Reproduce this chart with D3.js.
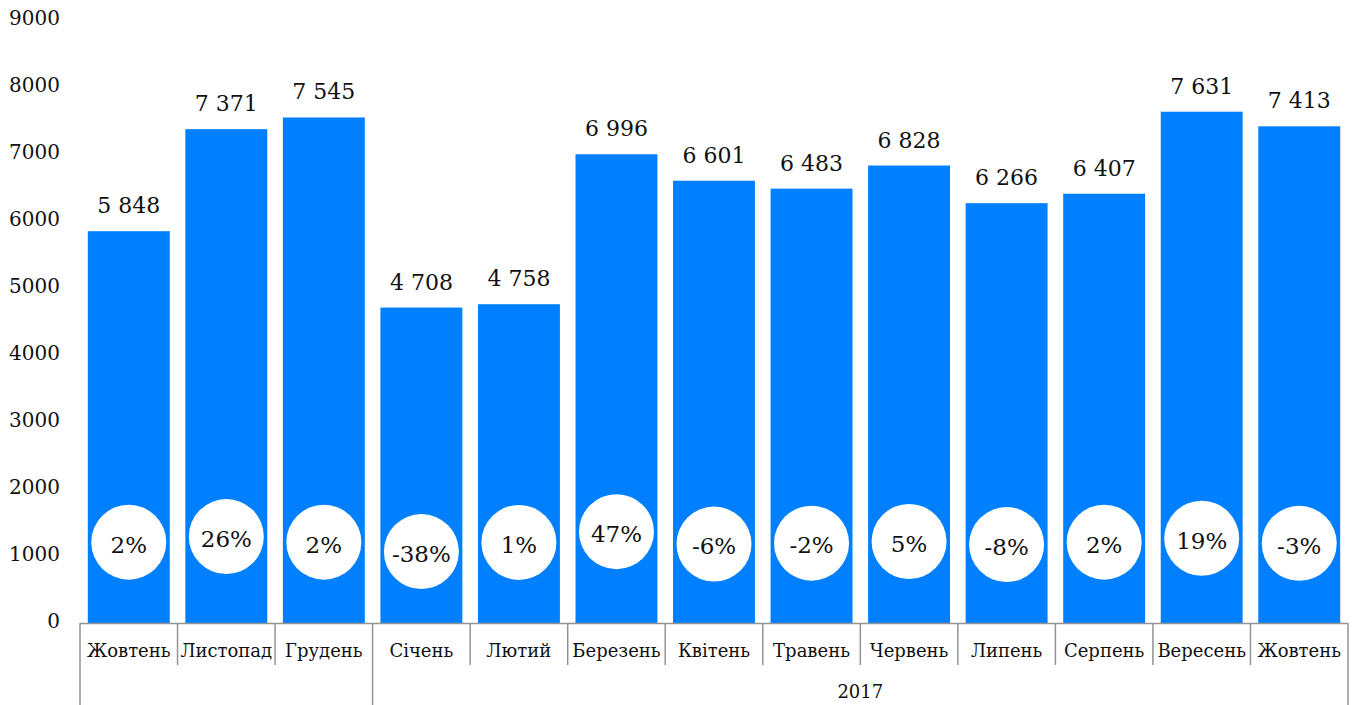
<!DOCTYPE html>
<html>
<head>
<meta charset="utf-8">
<script src="https://cdn.jsdelivr.net/npm/d3@7"></script>
<style>
  body { margin: 0; background: #fff; }
  svg text { font-family: "DejaVu Serif", "Liberation Serif", serif; fill: #111; }
</style>
</head>
<body>
<svg id="chart" width="1357" height="705"></svg>
<script>
// data
let months = ['Жовтень', 'Листопад', 'Грудень', 'Січень', 'Лютий', 'Березень', 'Квітень',
  'Травень', 'Червень', 'Липень', 'Серпень', 'Вересень', 'Жовтень'];
let values = [5848, 7371, 7545, 4708, 4758, 6996, 6601, 6483, 6828, 6266, 6407, 7631, 7413];
let changes = [2, 26, 2, -38, 1, 47, -6, -2, 5, -8, 2, 19, -3];
let yTickValues = [0, 1000, 2000, 3000, 4000, 5000, 6000, 7000, 8000, 9000];
let yearGroups = [
  { label: '', from: 0, to: 3 },
  { label: '2017', from: 3, to: 13 }
];

let svg = d3.select('#chart');
let plotLeft = 80, plotRight = 1348, plotTop = 20, plotBottom = 623;

let x = d3.scaleBand()
  .domain(d3.range(months.length))
  .range([plotLeft, plotRight])
  .paddingInner(0.16)
  .paddingOuter(0.08);

let y = d3.scaleLinear()
  .domain([0, 9000])
  .range([plotBottom, plotTop]);

// secondary scale for the % change bubbles
let y2 = d3.scaleLinear()
  .domain([-40, 50])
  .range([552, 531]);

let fmt = d3.formatLocale({ decimal: ',', thousands: ' ', grouping: [3], currency: ['', ''] }).format(',d');
let edge = function (i) { return plotLeft + i * x.step(); };

// y axis labels
svg.append('g')
  .selectAll('text')
  .data(yTickValues)
  .enter().append('text')
  .attr('x', 60)
  .attr('y', function (d) { return y(d) - 2; })
  .attr('dy', '0.35em')
  .attr('text-anchor', 'end')
  .style('font-size', '20px')
  .text(function (d) { return d; });

// bars
svg.append('g')
  .selectAll('rect')
  .data(values)
  .enter().append('rect')
  .attr('x', function (d, i) { return x(i); })
  .attr('y', function (d) { return y(d); })
  .attr('width', x.bandwidth())
  .attr('height', function (d) { return y(0) - y(d); })
  .attr('fill', '#0080ff');

// value labels
svg.append('g')
  .selectAll('text')
  .data(values)
  .enter().append('text')
  .attr('x', function (d, i) { return x(i) + x.bandwidth() / 2; })
  .attr('y', function (d) { return y(d) - 18; })
  .attr('text-anchor', 'middle')
  .style('font-size', '22px')
  .text(function (d) { return fmt(d); });

// % change bubbles
let bubble = svg.append('g')
  .selectAll('g')
  .data(changes)
  .enter().append('g')
  .attr('transform', function (d, i) { return 'translate(' + (x(i) + x.bandwidth() / 2) + ',' + y2(d) + ')'; });

bubble.append('circle')
  .attr('r', 37.5)
  .attr('fill', '#fff');

bubble.append('text')
  .attr('text-anchor', 'middle')
  .attr('dy', '0.45em')
  .style('font-size', '23px')
  .text(function (d) { return d + '%'; });

// x axis
let axis = svg.append('g')
  .attr('stroke', '#939393')
  .attr('stroke-width', 1.5);

axis.append('line')
  .attr('x1', plotLeft).attr('x2', plotRight)
  .attr('y1', plotBottom + 0.5).attr('y2', plotBottom + 0.5);

let groupEdges = [];
yearGroups.forEach(function (g) { groupEdges.push(g.from, g.to); });

axis.selectAll('line.tick')
  .data(d3.range(months.length + 1))
  .enter().append('line')
  .attr('class', 'tick')
  .attr('x1', function (i) { return edge(i); })
  .attr('x2', function (i) { return edge(i); })
  .attr('y1', plotBottom)
  .attr('y2', function (i) { return groupEdges.indexOf(i) >= 0 ? 705 : 665; });

svg.append('g')
  .selectAll('text')
  .data(months)
  .enter().append('text')
  .attr('x', function (d, i) { return x(i) + x.bandwidth() / 2; })
  .attr('y', 657)
  .attr('text-anchor', 'middle')
  .style('font-size', '18px')
  .text(function (d) { return d; });

svg.append('g')
  .selectAll('text')
  .data(yearGroups)
  .enter().append('text')
  .attr('x', function (g) { return (edge(g.from) + edge(g.to)) / 2; })
  .attr('y', 698)
  .attr('text-anchor', 'middle')
  .style('font-size', '18px')
  .text(function (g) { return g.label; });
</script>
</body>
</html>
